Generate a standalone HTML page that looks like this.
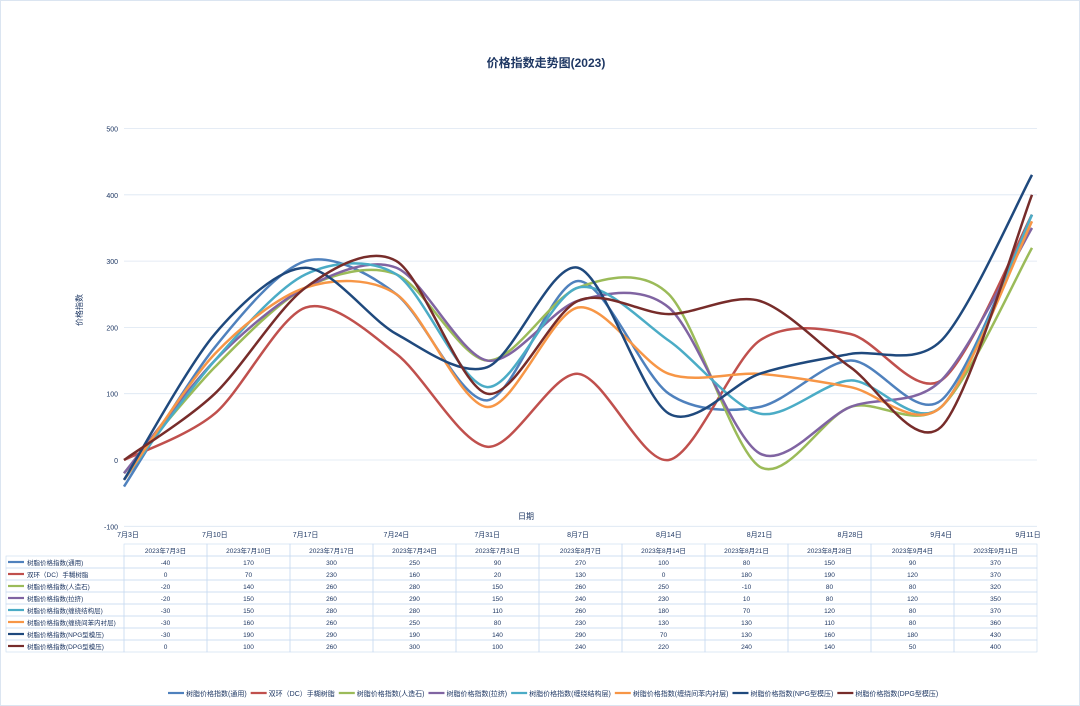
<!DOCTYPE html>
<html><head><meta charset="utf-8"><style>
body{margin:0;background:#fff;font-family:"Liberation Sans","Noto Sans CJK SC",sans-serif;}
#wrap{position:relative;width:1080px;height:706px;overflow:hidden;}
svg text{font-family:"Liberation Sans","Noto Sans CJK SC",sans-serif;}
</style></head><body>
<div id="wrap">
<svg id="svg" width="1080" height="706">
<rect x="0.5" y="0.5" width="1079" height="705" fill="#fff" stroke="#dbe5f1"/>
<text x="546" y="67" text-anchor="middle" font-size="12" font-weight="600" fill="#1f3864">价格指数走势图(2023)</text>
<text x="82" y="310" font-size="8" fill="#1f3864" text-anchor="middle" transform="rotate(-90 82 310)">价格指数</text>
<text x="526" y="519" font-size="8" fill="#1f3864" text-anchor="middle">日期</text>
<g id="grid"></g><g id="lines"></g><g id="table"></g><g id="legend"></g>
</svg></div>
<script>
const categories=["7月3日","7月10日","7月17日","7月24日","7月31日","8月7日","8月14日","8月21日","8月28日","9月4日","9月11日"];
const tableDates=["2023年7月3日","2023年7月10日","2023年7月17日","2023年7月24日","2023年7月31日","2023年8月7日","2023年8月14日","2023年8月21日","2023年8月28日","2023年9月4日","2023年9月11日"];
const yTicks=[500,400,300,200,100,0,-100];
const seriesNames=["树脂价格指数(通用)","双环（DC）手糊树脂","树脂价格指数(人造石)","树脂价格指数(拉挤)","树脂价格指数(缠绕结构层)","树脂价格指数(缠绕间苯内衬层)","树脂价格指数(NPG型模压)","树脂价格指数(DPG型模压)"];
const colors=["#4f81bd","#c0504d","#9bbb59","#8064a2","#4bacc6","#f79646","#1f497d","#772c2a"];
const s1=[-40,170,300,250,90,270,100,80,150,90,370];
const s2=[0,70,230,160,20,130,0,180,190,120,370];
const s3=[-20,140,260,280,150,260,250,-10,80,80,320];
const s4=[-20,150,260,290,150,240,230,10,80,120,350];
const s5=[-30,150,280,280,110,260,180,70,120,80,370];
const s6=[-30,160,260,250,80,230,130,130,110,80,360];
const s7=[-30,190,290,190,140,290,70,130,160,180,430];
const s8=[0,100,260,300,100,240,220,240,140,50,400];
const series=[s1,s2,s3,s4,s5,s6,s7,s8];
const NS="http://www.w3.org/2000/svg";
const X0=124,DX=90.8,Y0=460,YS=0.663;
const xf=i=>X0+i*DX, yf=v=>Y0-v*YS;
function mk(t,a,p,txt){const e=document.createElementNS(NS,t);for(const k in a)e.setAttribute(k,a[k]);if(txt!=null)e.textContent=txt;p.appendChild(e);return e;}
const grid=document.getElementById('grid');
yTicks.forEach(v=>{
 const l=mk('line',{x1:124,x2:1037,y1:yf(v),y2:yf(v),stroke:'#dce6f2','stroke-width':0.8},grid);
 
 
 const t=mk('text',{x:118,y:yf(v)+3,'font-size':7,fill:'#1f3864','text-anchor':'end'},grid,v);
 
 
});
categories.forEach((c,i)=>{
 const t=mk('text',{x:xf(i)+(i==0?4:i==10?-4:0),y:537,'font-size':7,fill:'#1f3864','text-anchor':'middle'},grid,c);
 
 
});
const lines=document.getElementById('lines');
series.forEach((s,k)=>{
 const p=s.map((v,i)=>[xf(i),yf(v)]);
 let d='M'+p[0][0]+','+p[0][1];
 const f=6.8;
 for(let i=0;i<p.length-1;i++){
  const a=p[Math.max(0,i-1)],b=p[i],c=p[i+1],e=p[Math.min(p.length-1,i+2)];
  const c1=[b[0]+(c[0]-a[0])/f,b[1]+(c[1]-a[1])/f],c2=[c[0]-(e[0]-b[0])/f,c[1]-(e[1]-b[1])/f];
  d+=` C${c1[0]},${c1[1]} ${c2[0]},${c2[1]} ${c[0]},${c[1]}`;
 }
 const path=mk('path',{d:d,fill:'none',stroke:colors[k],'stroke-width':2.5},lines);
 
 
});
const tb=document.getElementById('table');
const TX=124,CW=83,TY=544,RH=12;
tableDates.forEach((d,i)=>{
 mk('rect',{x:TX+i*CW,y:TY,width:CW,height:RH,fill:'none',stroke:'#c6d9f1','stroke-width':0.6},tb);
 const t=mk('text',{x:TX+i*CW+CW/2,y:TY+9,'font-size':6.5,fill:'#1f3864','text-anchor':'middle'},tb,d);
 
 
});
series.forEach((s,k)=>{
 const y=TY+RH*(k+1);
 mk('rect',{x:6,y:y,width:TX-6,height:RH,fill:'none',stroke:'#c6d9f1','stroke-width':0.6},tb);
 mk('line',{x1:8,x2:24,y1:y+6,y2:y+6,stroke:colors[k],'stroke-width':2.2},tb);
 const n=mk('text',{x:27,y:y+9,'font-size':6.5,fill:'#1f3864'},tb,seriesNames[k]);
 
 
 s.forEach((v,i)=>{
  mk('rect',{x:TX+i*CW,y:y,width:CW,height:RH,fill:'none',stroke:'#c6d9f1','stroke-width':0.6},tb);
  const t=mk('text',{x:TX+i*CW+CW/2,y:y+9,'font-size':6.5,fill:'#1f3864','text-anchor':'middle'},tb,v);
  
  
 });
});
const lg=document.getElementById('legend');
let lx=168;
seriesNames.forEach((n,k)=>{
 mk('line',{x1:lx,x2:lx+16,y1:693,y2:693,stroke:colors[k],'stroke-width':2.2},lg);
 const t=mk('text',{x:lx+18,y:696,'font-size':7,fill:'#1f3864'},lg,n);
 
 
 lx+=18+t.getComputedTextLength()+4;
});
</script>
</body></html>
